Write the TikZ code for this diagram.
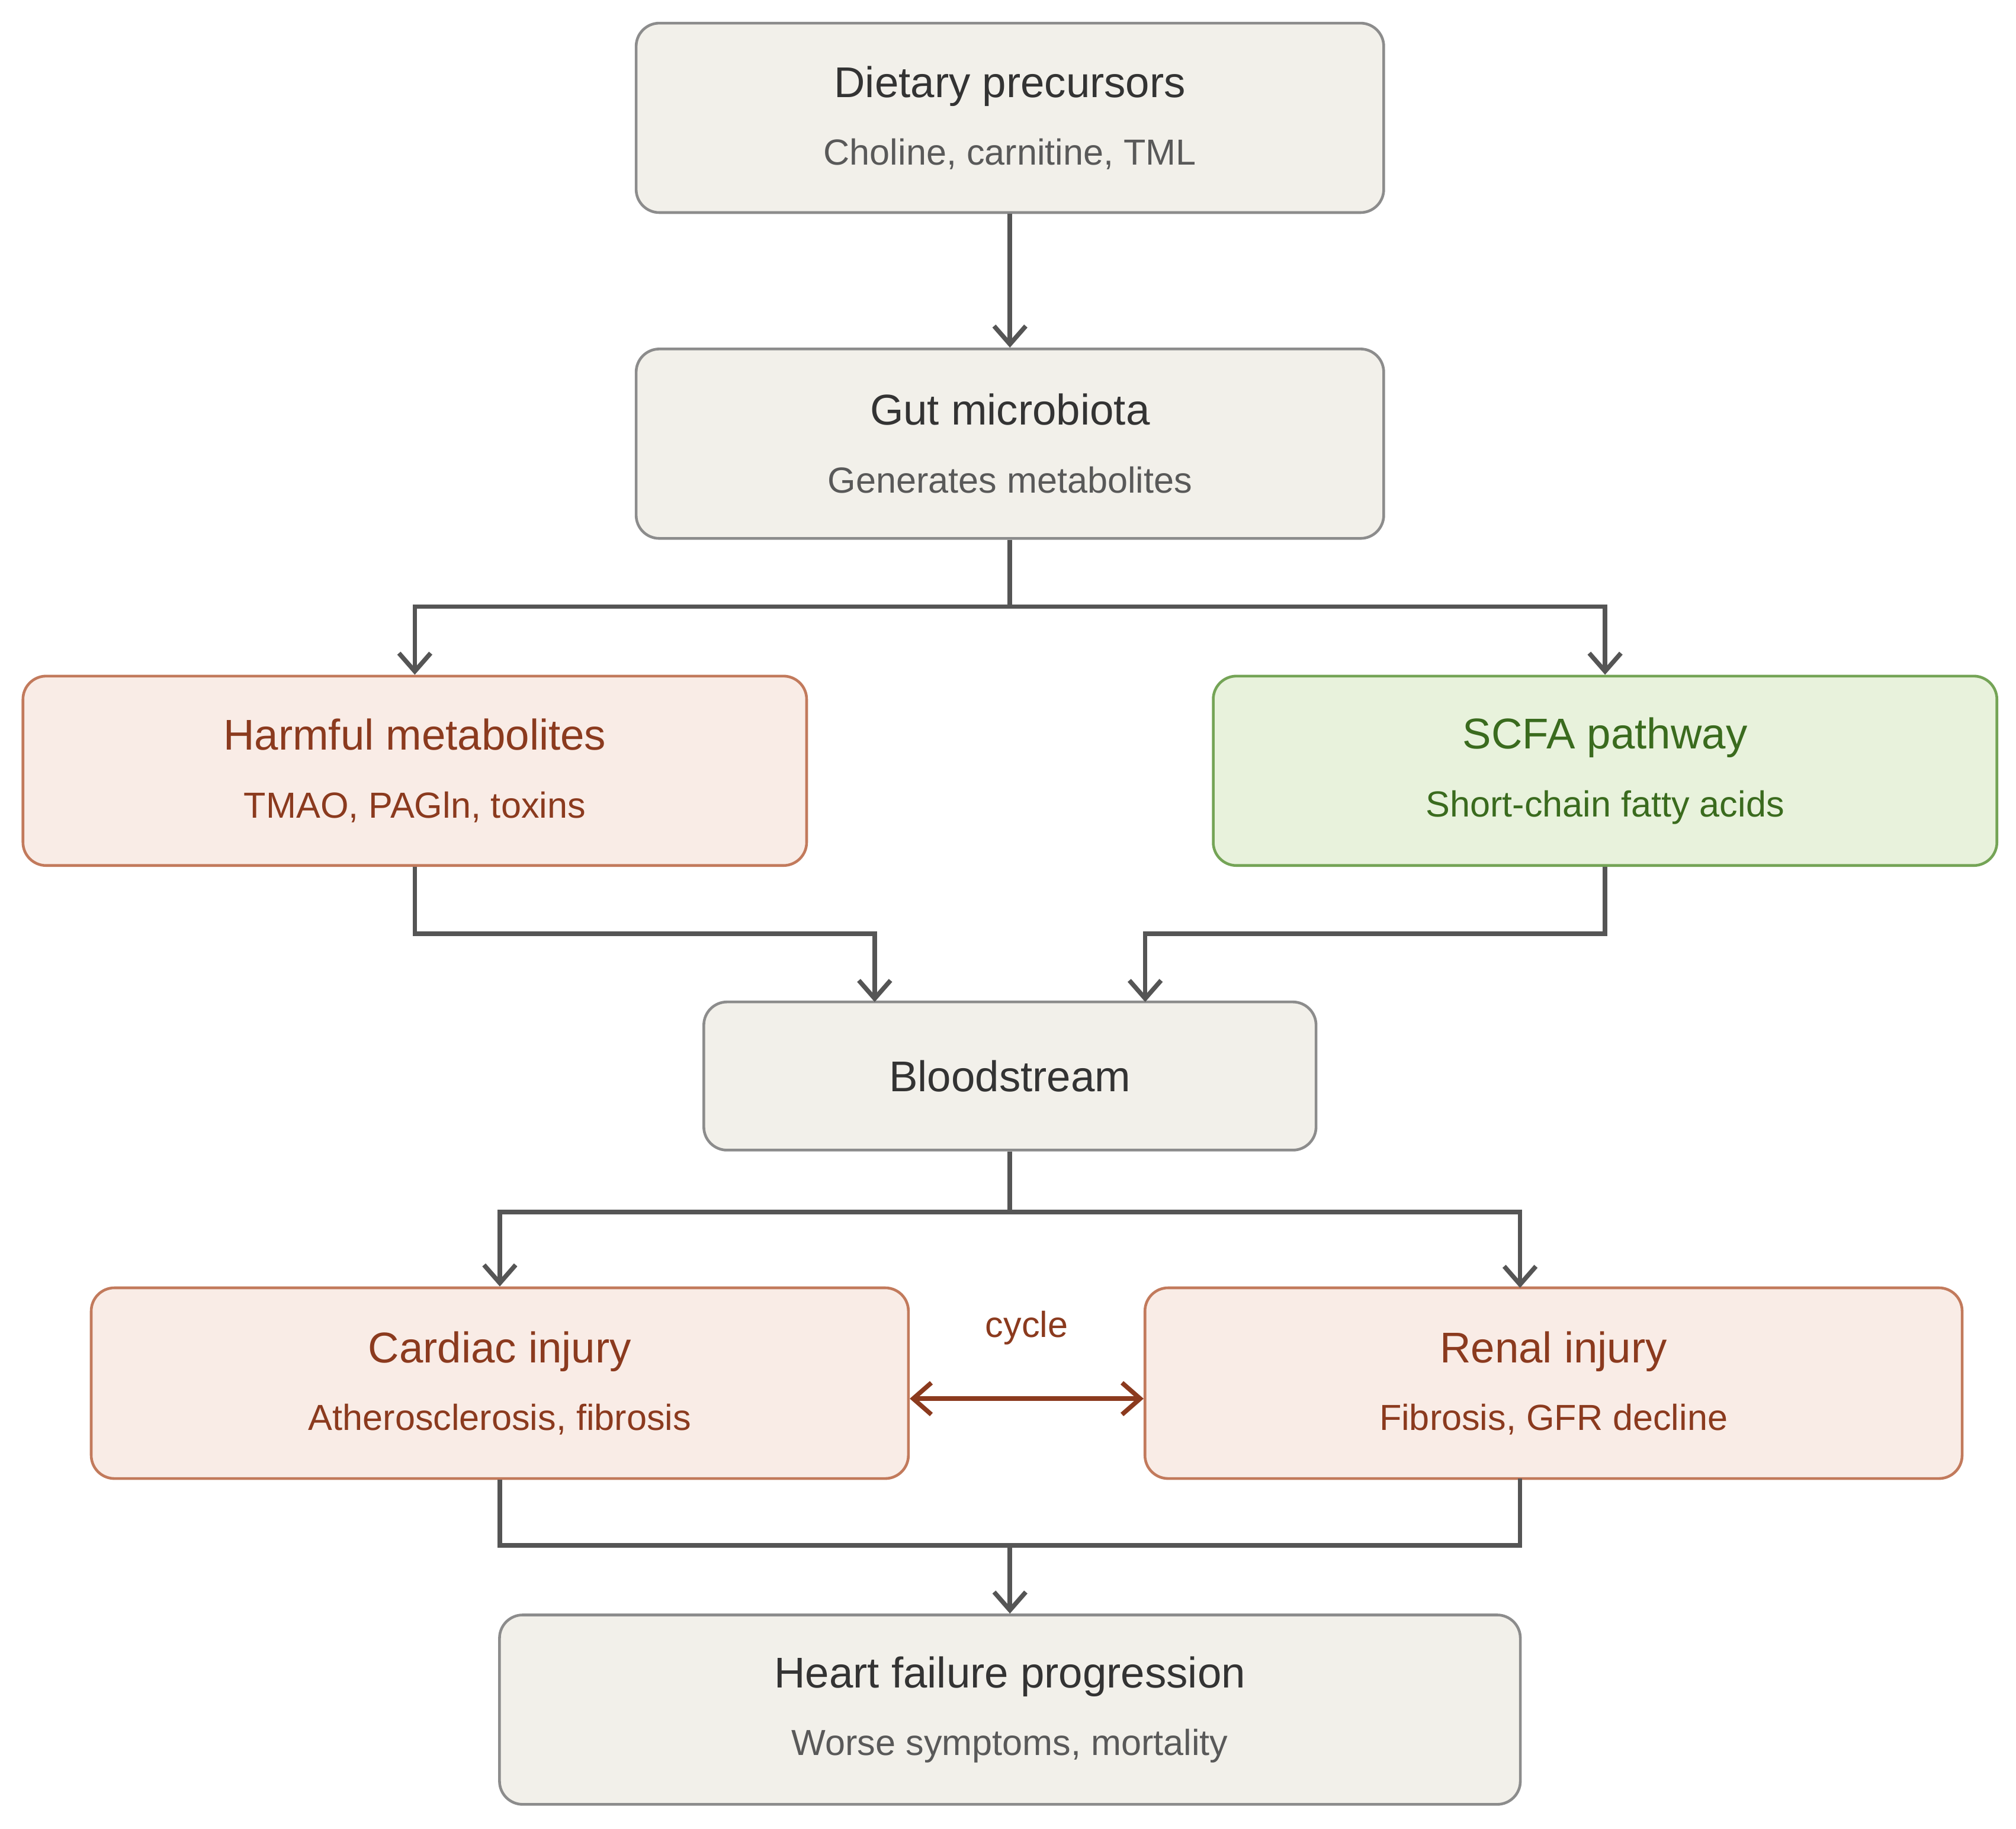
\documentclass[tikz,border=0pt]{standalone}
\usepackage{fontspec}
\setmainfont{Liberation Sans}
\usetikzlibrary{arrows.meta}
\definecolor{gfill}{HTML}{F2F0EA}\definecolor{gdraw}{HTML}{8C8C8C}
\definecolor{rfill}{HTML}{F9ECE6}\definecolor{rdraw}{HTML}{C27A5C}\definecolor{rtext}{HTML}{8B3A1E}
\definecolor{nfill}{HTML}{E8F2DC}\definecolor{ndraw}{HTML}{74A456}\definecolor{ntext}{HTML}{3A6B1E}
\definecolor{lcol}{HTML}{555555}
\newcommand\subfnt{\fontsize{8}{10}\selectfont}
\begin{document}
\begin{tikzpicture}[x=0.01cm,y=-0.01cm,
 box/.style={rounded corners=0.18cm,line width=0.6pt,align=center,inner sep=0pt,font=\fontsize{9.5}{15}\selectfont},
 gbox/.style={box,fill=gfill,draw=gdraw,text=black!80},
 rbox/.style={box,fill=rfill,draw=rdraw,text=rtext},
 nbox/.style={box,fill=nfill,draw=ndraw,text=ntext},
 conn/.style={draw=lcol,line width=1pt,-{Straight Barb[length=4pt,width=7pt]}},
 line/.style={draw=lcol,line width=1pt}]
\useasboundingbox (0,0) rectangle (1565,1420);
\node[gbox,minimum width=5.80cm,minimum height=1.47cm] (diet) at (784,91.5) {Dietary precursors\\{\subfnt\color{black!65}Choline, carnitine, TML}};
\node[gbox,minimum width=5.80cm,minimum height=1.47cm] (gut) at (784,344.5) {Gut microbiota\\{\subfnt\color{black!65}Generates metabolites}};
\node[rbox,minimum width=6.08cm,minimum height=1.47cm] (harm) at (322,598.5) {Harmful metabolites\\{\subfnt TMAO, PAGln, toxins}};
\node[nbox,minimum width=6.08cm,minimum height=1.47cm] (scfa) at (1246,598.5) {SCFA pathway\\{\subfnt Short-chain fatty acids}};
\node[gbox,minimum width=4.75cm,minimum height=1.15cm] (blood) at (784,835.5) {Bloodstream};
\node[rbox,minimum width=6.34cm,minimum height=1.48cm] (card) at (388,1074) {Cardiac injury\\{\subfnt Atherosclerosis, fibrosis}};
\node[rbox,minimum width=6.34cm,minimum height=1.48cm] (ren) at (1206,1074) {Renal injury\\{\subfnt Fibrosis, GFR decline}};
\node[gbox,minimum width=7.92cm,minimum height=1.47cm] (hf) at (784,1327.5) {Heart failure progression\\{\subfnt\color{black!65}Worse symptoms, mortality}};
\coordinate (j1) at (784,471);
\coordinate (j2) at (784,941);
\coordinate (j3) at (784,1200);
\draw[conn] (diet) -- (gut);
\draw[line] (gut) -- (j1);
\draw[conn] (j1) -| (harm.north);
\draw[conn] (j1) -| (scfa.north);
\draw[conn] (harm.south) |- (679,725) -- (679,778);
\draw[conn] (scfa.south) |- (889,725) -- (889,778);
\draw[line] (blood) -- (j2);
\draw[conn] (j2) -| (card.north);
\draw[conn] (j2) -| (1180,1000);
\draw[line] (card.south) |- (j3);
\draw[line] (1180,1148) |- (j3);
\draw[conn] (j3) -- (hf);
\draw[draw=rtext,line width=1pt,{Straight Barb[length=4pt,width=7pt]}-{Straight Barb[length=4pt,width=7pt]}] (card.east|-0,1086) -- (ren.west|-0,1086);
\node[text=rtext,font=\subfnt] (cyc) at (797,1031) {cycle};
\end{tikzpicture}
\end{document}
